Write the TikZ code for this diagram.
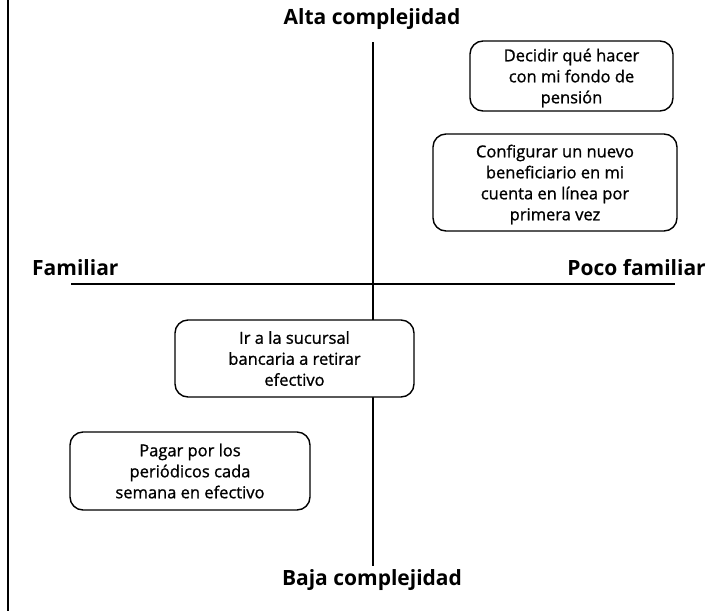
\documentclass[tikz,border=0pt]{standalone}
\usepackage{fontspec}
\setmainfont{Open Sans}
\newfontfamily\cardfont{Open Sans}[FakeBold=1.0]
\begin{document}
\begin{tikzpicture}[x=1pt,y=-1pt,
  axis/.style={line width=1.5pt},
  title/.style={font=\fontsize{21}{24}\selectfont\bfseries, inner sep=0pt},
  card/.style={draw, line width=1.4pt, rounded corners=13pt, fill=white,
    align=center, font=\cardfont\fontsize{16.5}{21}\selectfont, inner sep=0pt,
    text depth=0pt}]
\useasboundingbox (0,0) rectangle (712,611);
% left edge line
\draw[line width=1.4pt] (8,0) -- (8,611);
% titles
\node[title] (alta) at (372,19) {Alta complejidad};
\node[title] (baja) at (372,580) {Baja complejidad};
\node[title, anchor=west] (fam) at (32,268) {Familiar};
\node[title, anchor=east] (poco) at (706,268) {Poco familiar};
% axes
\coordinate (vt) at (373,42);
\coordinate (vb) at (373,566);
\coordinate (hl) at (71,284);
\coordinate (hr) at (675,284);
\draw[axis] (vt) -- (vb);
\draw[axis] (hl) -- (hr);
% cards
\node[card, minimum width=203pt, minimum height=70pt] (c1) at (571.5,76) {Decidir qué hacer\\con mi fondo de\\pensión};
\node[card, minimum width=244pt, minimum height=97pt] (c2) at (555,182.5) {Configurar un nuevo\\beneficiario en mi\\cuenta en línea por\\primera vez};
\node[card, minimum width=239pt, minimum height=77pt] (c3) at (294.5,358.5) {Ir a la sucursal\\bancaria a retirar\\efectivo};
\node[card, minimum width=240pt, minimum height=78pt] (c4) at (190,471) {Pagar por los\\periódicos cada\\semana en efectivo};
\end{tikzpicture}
\end{document}
